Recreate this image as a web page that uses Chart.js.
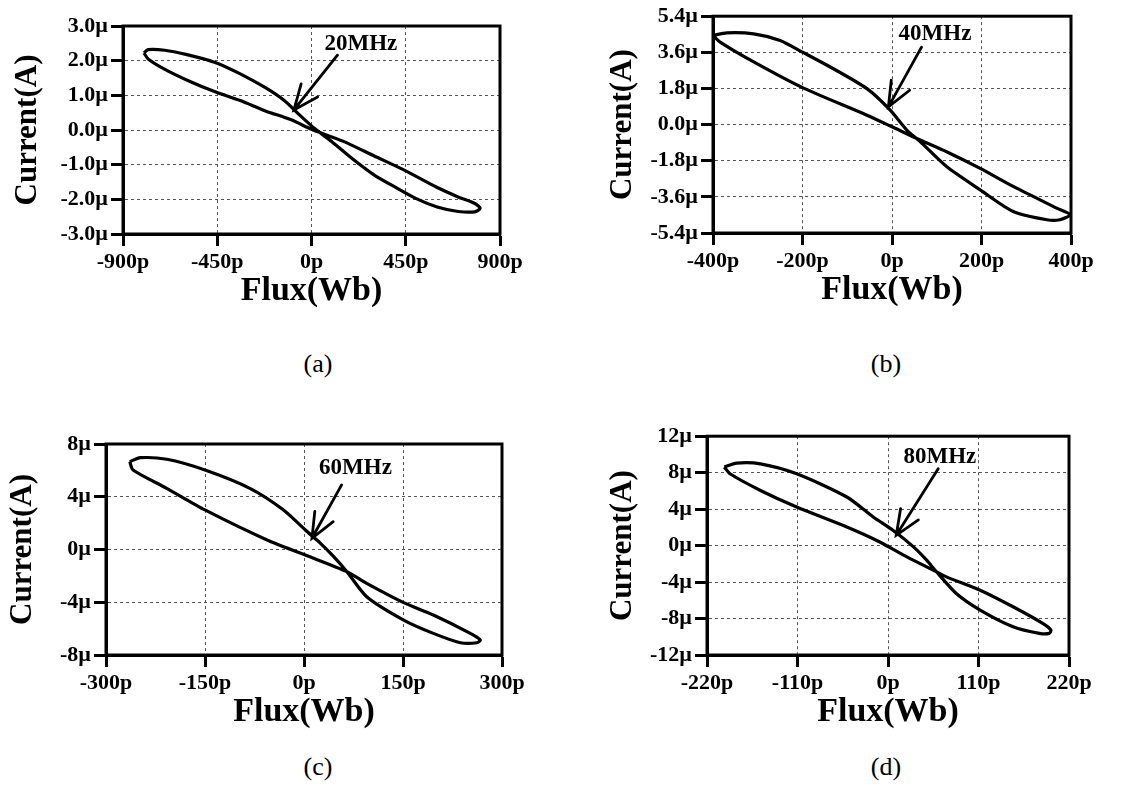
<!DOCTYPE html>
<html>
<head>
<meta charset="utf-8">
<script src="https://cdn.jsdelivr.net/npm/chart.js@4"></script>
<style>
  body { margin: 0; background: #fff; width: 1148px; height: 809px; position: relative; overflow: hidden; }
  canvas { position: absolute; }
  .cap { position: absolute; font: 26px "Liberation Serif", serif; color: #000; transform: translate(-50%, -50%); }
</style>
</head>
<body>
<canvas id="ca" width="560" height="330" style="left:0;top:0"></canvas>
<canvas id="cb" width="568" height="330" style="left:580px;top:0"></canvas>
<canvas id="cc" width="560" height="330" style="left:0;top:420px"></canvas>
<canvas id="cd" width="568" height="330" style="left:580px;top:420px"></canvas>
<div class="cap" style="left:318px;top:364px">(a)</div>
<div class="cap" style="left:886px;top:364px">(b)</div>
<div class="cap" style="left:318px;top:767px">(c)</div>
<div class="cap" style="left:886px;top:767px">(d)</div>
<script>
// loops: flux in pWb, current in uA, traced once round
const fluxA = [-800, -780, -700, -600, -460, -340, -220, -130, -60, 0, 50, 100, 200, 300, 400, 500, 600, 700, 780, 805,
  780, 700, 600, 450, 300, 150, 60, 0, -100, -220, -340, -460, -580, -700, -780, -800];
const currA = [2.22, 2.32, 2.30, 2.18, 1.95, 1.62, 1.22, 0.85, 0.45, 0.12, -0.12, -0.35, -0.85, -1.30, -1.65, -1.98, -2.22, -2.35, -2.36, -2.26,
  -2.12, -1.93, -1.66, -1.18, -0.75, -0.32, -0.12, 0.02, 0.30, 0.55, 0.85, 1.10, 1.40, 1.75, 2.05, 2.22];

const fluxB = [-400, -369, -309, -250, -200, -138, -56, -4, 33, 63, 122, 197, 271, 346, 375, 398,
  368, 271, 197, 122, 63, 0, -56, -200, -309, -384, -400];
const currB = [4.44, 4.57, 4.52, 4.19, 3.61, 2.87, 1.79, 0.72, -0.27, -0.85, -2.09, -3.25, -4.33, -4.74, -4.74, -4.49,
  -4.16, -3.08, -2.18, -1.35, -0.77, -0.11, 0.47, 1.84, 3.12, 4.11, 4.44];

const fluxC = [-264, -248, -208, -150, -82, -31, 2, 25, 45, 65, 95, 151, 196, 237, 262, 267,
  252, 196, 151, 95, 65, 2, -56, -150, -208, -259, -264];
const currC = [6.66, 6.96, 6.84, 6.03, 4.64, 3.0, 1.48, 0.47, -0.54, -1.68, -3.58, -5.35, -6.36, -7.07, -7.07, -6.86,
  -6.36, -4.97, -4.03, -2.57, -1.68, -0.42, 0.72, 3.0, 4.64, 6.03, 6.66];

const fluxD = [-199, -184, -155, -111, -50, -18, 6, 31, 47, 59, 83, 112, 152, 184, 196, 198,
  188, 152, 112, 71, 59, 23, -10, -50, -111, -155, -192, -199];
const currD = [8.61, 9.05, 8.97, 7.88, 5.33, 3.14, 1.68, -0.14, -1.6, -2.88, -5.25, -7.07, -8.9, -9.63, -9.63, -9.26,
  -8.53, -6.71, -4.89, -3.43, -2.88, -1.24, 0.40, 2.04, 4.23, 6.05, 7.88, 8.61];

// ticks
const xTicksA = [-900, -450, 0, 450, 900];
const xLabelsA = ['-900p', '-450p', '0p', '450p', '900p'];
const yTicksA = [-3, -2, -1, 0, 1, 2, 3];
const yLabelsA = ['-3.0\u00b5', '-2.0\u00b5', '-1.0\u00b5', '0.0\u00b5', '1.0\u00b5', '2.0\u00b5', '3.0\u00b5'];

const xTicksB = [-400, -200, 0, 200, 400];
const xLabelsB = ['-400p', '-200p', '0p', '200p', '400p'];
const yTicksB = [-5.4, -3.6, -1.8, 0, 1.8, 3.6, 5.4];
const yLabelsB = ['-5.4\u00b5', '-3.6\u00b5', '-1.8\u00b5', '0.0\u00b5', '1.8\u00b5', '3.6\u00b5', '5.4\u00b5'];

const xTicksC = [-300, -150, 0, 150, 300];
const xLabelsC = ['-300p', '-150p', '0p', '150p', '300p'];
const yTicksC = [-8, -4, 0, 4, 8];
const yLabelsC = ['-8\u00b5', '-4\u00b5', '0\u00b5', '4\u00b5', '8\u00b5'];

const xTicksD = [-220, -110, 0, 110, 220];
const xLabelsD = ['-220p', '-110p', '0p', '110p', '220p'];
const yTicksD = [-12, -8, -4, 0, 4, 8, 12];
const yLabelsD = ['-12\u00b5', '-8\u00b5', '-4\u00b5', '0\u00b5', '4\u00b5', '8\u00b5', '12\u00b5'];

// annotation: label, label position, arrow tail, arrow tip (data units)
const notes = {
  a: { text: '20MHz', at: [236, 2.47], from: [124, 2.16], to: [-84, 0.58] },
  b: { text: '40MHz', at: [96, 4.52], from: [66, 3.86], to: [-8, 0.88] },
  c: { text: '60MHz', at: [78, 6.2], from: [57, 4.9], to: [12, 0.85] },
  d: { text: '80MHz', at: [63, 9.7], from: [61, 8.43], to: [10, 1.13] }
};

const SERIF = '"Liberation Serif", "Times New Roman", serif';

const framePlugin = {
  id: 'frame',
  afterDraw(chart) {
    const { ctx, chartArea: a, scales } = chart;
    ctx.save();
    ctx.strokeStyle = '#000';
    ctx.lineWidth = 3;
    ctx.strokeRect(a.left, a.top, a.right - a.left, a.bottom - a.top);

    const n = chart.options.plugins.frame.note;
    const px = v => scales.x.getPixelForValue(v[0]);
    const py = v => scales.y.getPixelForValue(v[1]);
    const x1 = px(n.from), y1 = py(n.from), x2 = px(n.to), y2 = py(n.to);
    ctx.lineWidth = 2.8;
    ctx.lineCap = 'round';
    ctx.beginPath();
    ctx.moveTo(x1, y1);
    ctx.lineTo(x2, y2);
    const ang = Math.atan2(y1 - y2, x1 - x2);
    const len = 27, spread = 0.4;
    ctx.moveTo(x2 + len * Math.cos(ang - spread), y2 + len * Math.sin(ang - spread));
    ctx.lineTo(x2, y2);
    ctx.lineTo(x2 + len * Math.cos(ang + spread), y2 + len * Math.sin(ang + spread));
    ctx.stroke();

    ctx.fillStyle = '#000';
    ctx.font = 'bold 23px ' + SERIF;
    ctx.textAlign = 'center';
    ctx.textBaseline = 'middle';
    ctx.fillText(n.text, px(n.at), py(n.at));
    ctx.restore();
  }
};

function makeChart(id, flux, curr, xr, yr, xTicks, xLabels, yTicks, yLabels, note, pad, yWidth) {
  const pts = flux.map((f, i) => ({ x: f, y: curr[i] }));
  const gridCommon = {
    color: '#555',
    lineWidth: 1,
    tickColor: '#000',
    tickWidth: 3,
    tickLength: 12
  };
  const borderCommon = { display: true, color: '#000', width: 3, dash: [3, 3] };
  new Chart(document.getElementById(id), {
    type: 'scatter',
    data: {
      datasets: [{
        data: pts,
        showLine: true,
        borderColor: '#000',
        borderWidth: 3.2,
        pointRadius: 0,
        tension: 0.25,
        fill: false
      }]
    },
    options: {
      responsive: false,
      animation: false,
      layout: { padding: pad },
      plugins: { legend: { display: false }, tooltip: { enabled: false }, frame: { note: note } },
      scales: {
        x: {
          type: 'linear',
          min: xr[0], max: xr[1],
          afterBuildTicks: s => { s.ticks = xTicks.map(v => ({ value: v })); },
          afterFit: s => { s.height = 80; },
          ticks: {
            color: '#000', padding: 3,
            font: { family: SERIF, size: 22, weight: 'bold' },
            callback: (v, i) => xLabels[i]
          },
          grid: gridCommon,
          border: borderCommon,
          title: { display: true, text: 'Flux(Wb)', color: '#000', padding: { top: 0, bottom: 2 },
            font: { family: SERIF, size: 34, weight: 'bold' } }
        },
        y: {
          type: 'linear',
          min: yr[0], max: yr[1],
          afterBuildTicks: s => { s.ticks = yTicks.map(v => ({ value: v })); },
          afterFit: s => { s.width = yWidth; },
          ticks: {
            color: '#000', padding: 3,
            font: { family: SERIF, size: 22, weight: 'bold' },
            callback: (v, i) => yLabels[i]
          },
          grid: gridCommon,
          border: borderCommon,
          title: { display: true, text: 'Current(A)', color: '#000', font: { family: SERIF, size: 31, weight: 'bold' } }
        }
      }
    },
    plugins: [framePlugin]
  });
}

makeChart('ca', fluxA, currA, [-900, 900], [-3, 3], xTicksA, xLabelsA, yTicksA, yLabelsA, notes.a,
  { left: 5, top: 26, right: 60, bottom: 16 }, 118);
makeChart('cb', fluxB, currB, [-400, 400], [-5.4, 5.4], xTicksB, xLabelsB, yTicksB, yLabelsB, notes.b,
  { left: 20, top: 16, right: 77, bottom: 17 }, 113);
makeChart('cc', fluxC, currC, [-300, 300], [-8, 8], xTicksC, xLabelsC, yTicksC, yLabelsC, notes.c,
  { left: 0, top: 24, right: 58, bottom: 15 }, 106);
makeChart('cd', fluxD, currD, [-220, 220], [-12, 12], xTicksD, xLabelsD, yTicksD, yLabelsD, notes.d,
  { left: 20, top: 16, right: 79, bottom: 15 }, 107);
</script>
</body>
</html>
